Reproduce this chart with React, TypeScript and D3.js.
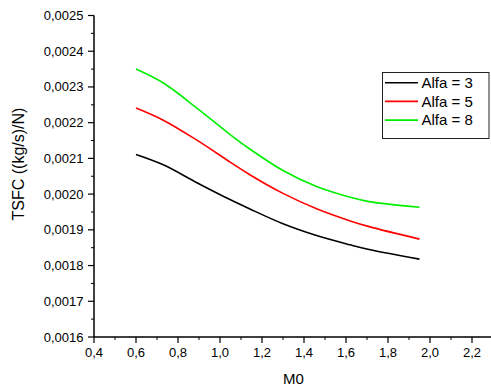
import React from "react";
import * as d3 from "d3";

const mach = [0.6, 0.73, 0.89, 1.05, 1.14, 1.3, 1.46, 1.62, 1.71, 1.95];
const alfa3 = [0.002111, 0.002082, 0.002032, 0.001984, 0.001959, 0.001917, 0.001884, 0.001858, 0.001845, 0.001818];
const alfa5 = [0.002241, 0.002207, 0.002151, 0.002089, 0.002055, 0.002002, 0.001959, 0.001925, 0.001909, 0.001874];
const alfa8 = [0.00235, 0.002311, 0.002241, 0.002166, 0.002127, 0.002066, 0.002021, 0.001991, 0.001979, 0.001963];
const seriesNames = ["Alfa = 3", "Alfa = 5", "Alfa = 8"];
const seriesColors = ["#000000", "#ff0000", "#00ee00"];
const xTicks = [0.4, 0.6, 0.8, 1.0, 1.2, 1.4, 1.6, 1.8, 2.0, 2.2];
const yTicks = [0.0016, 0.0017, 0.0018, 0.0019, 0.002, 0.0021, 0.0022, 0.0023, 0.0024, 0.0025];

export default function App() {
  const W = 491, H = 387;
  const left = 94, bottom = 337, top = 15.5;
  const x = d3.scaleLinear().domain([0.4, 2.3]).range([left, left + 1.9 * 210]);
  const y = d3.scaleLinear().domain([0.0016, 0.0025]).range([bottom, top]);
  const line = d3.line<[number, number]>().x(d => x(d[0])).y(d => y(d[1])).curve(d3.curveCatmullRom.alpha(0.5));
  const all = [alfa3, alfa5, alfa8];
  const xMinor = d3.range(0.5, 2.35, 0.2);
  const yMinor = d3.range(0.00165, 0.0025, 0.0001);
  const font = "Arial, 'Liberation Sans', sans-serif";
  const fmt = (v: number, d: number) => v.toFixed(d).replace(".", ",");
  return (
    <svg width={W} height={H} style={{ position: "absolute", left: 0, top: 0, background: "#fff" }} fontFamily={font}>
      {all.map((s, i) => (
        <path key={i} d={line(mach.map((m, j) => [m, s[j]]) as [number, number][]) || ""} fill="none" stroke={seriesColors[i]} strokeWidth={1.6} />
      ))}
      {/* axes */}
      <line x1={left} x2={x(2.3)} y1={bottom} y2={bottom} stroke="#000" strokeWidth={1.5} />
      <line x1={left} x2={left} y1={bottom} y2={top} stroke="#000" strokeWidth={1.5} />
      {xTicks.map(t => (
        <g key={"xt" + t}>
          <line x1={x(t)} x2={x(t)} y1={bottom} y2={bottom + 6} stroke="#000" strokeWidth={1.2} />
          <text x={x(t)} y={356.5} fontSize={13} textAnchor="middle" fill="#000">{fmt(t, 1)}</text>
        </g>
      ))}
      {xMinor.map(t => (
        <line key={"xm" + t} x1={x(t)} x2={x(t)} y1={bottom} y2={bottom + 3} stroke="#000" strokeWidth={1} />
      ))}
      {yTicks.map(t => (
        <g key={"yt" + t}>
          <line x1={left - 6} x2={left} y1={y(t)} y2={y(t)} stroke="#000" strokeWidth={1.2} />
          <text x={83.5} y={y(t)} dy="0.35em" fontSize={13} textAnchor="end" fill="#000">{fmt(t, 4)}</text>
        </g>
      ))}
      {yMinor.map(t => (
        <line key={"ym" + t} x1={left - 3} x2={left} y1={y(t)} y2={y(t)} stroke="#000" strokeWidth={1} />
      ))}
      <text x={x(1.35)} y={384} fontSize={15} textAnchor="middle" fill="#000">M0</text>
      <text transform="translate(23.5,164) rotate(-90)" fontSize={16} textAnchor="middle" fill="#000">TSFC ((kg/s)/N)</text>
      {/* legend */}
      <rect x={382.5} y={72.5} width={106.5} height={66} fill="#fff" stroke="#222" strokeWidth={1} />
      {seriesNames.map((n, i) => (
        <g key={n}>
          <line x1={385} x2={418} y1={82.7 + i * 18.7} y2={82.7 + i * 18.7} stroke={seriesColors[i]} strokeWidth={1.6} />
          <text x={421.5} y={82.7 + i * 18.7} dy="0.35em" fontSize={15} fill="#000">{n}</text>
        </g>
      ))}
    </svg>
  );
}
